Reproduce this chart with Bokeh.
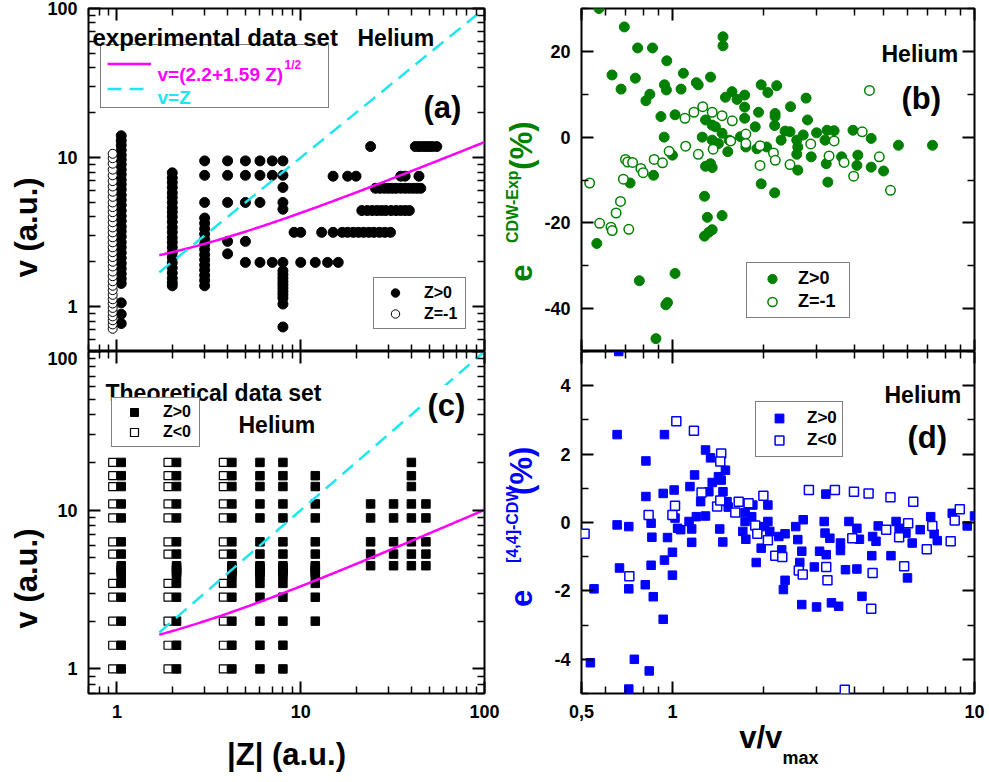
import numpy as np
from bokeh.plotting import figure
from bokeh.models import (FixedTicker, LogAxis, LinearAxis, Label, Legend, LegendItem,
                          CustomJSTickFormatter)
from bokeh.layouts import column, row
from bokeh.embed import file_html
from bokeh.resources import INLINE

# ------------------------------------------------------------------ data
# (a) experimental data set, Z>0 : v (a.u.) at fixed |Z| columns
a_z1_v = [14.0, 13.0, 12.1, 11.2, 10.4, 9.7, 9.0, 8.3, 7.7, 7.1, 6.6, 6.1, 5.6, 5.2, 4.8,
          4.4, 4.05, 3.75, 3.45, 3.2, 2.95, 2.7, 2.5, 2.3, 2.12, 1.95, 1.8, 1.66, 1.54,
          1.43, 1.06, 0.89, 0.77]
a_z2_v = [7.9, 7.3, 6.8, 6.3, 5.8, 5.4, 5.0, 4.6, 4.3, 4.0, 3.7, 3.4, 3.15, 2.9, 2.7, 2.5,
          2.3, 2.13, 1.97, 1.82, 1.68, 1.55, 1.45, 1.38]
a_z3_v = [9.5, 7.6, 5.0, 3.93, 3.62, 3.33, 3.07, 2.83, 2.62, 2.42, 2.23, 2.06, 1.9, 1.76,
          1.62, 1.5, 1.38]
a_z4_v = [9.5, 7.6, 5.0, 2.74, 2.26]
a_z5_v = [9.5, 7.6, 5.0, 2.74, 1.98]
a_z6_v = [9.5, 7.6, 5.0, 1.98]
a_z7_v = [9.5, 7.6, 1.98]
a_z8_v = [9.5, 7.6, 6.3, 5.0, 4.5, 1.98, 1.74, 1.64, 1.55, 1.47, 1.4, 1.33, 1.26, 1.2,
          1.14, 1.04, 0.73]
# (a) Z>0 : |Z| values along rows of fixed v
a_row_v = [3.15, 1.98, 7.5, 11.85, 6.22, 4.41]
a_row_Z = [
    [9.2, 10, 13, 15, 16.8, 18, 19.3, 20.6, 22, 23.5, 25, 26.8, 28.7, 30.8],
    [10, 12, 14, 16],
    [15, 18, 20, 35, 37, 44],
    [24, 42, 44, 46, 48, 50, 52, 55],
    [25.5, 27, 28.5, 30, 31.5, 33, 35, 37, 39, 41, 43, 45],
    [21.5, 23, 24.5, 26, 27.5, 29, 31, 33, 35, 37, 39],
]
# (a) Z=-1 (|Z|=1)
a_neg_v = [0.71, 0.76, 0.81, 0.86, 0.92, 0.98, 1.05, 1.12, 1.2, 1.29, 1.38, 1.48, 1.6, 1.72,
           1.86, 2.0, 2.15, 2.32, 2.5, 2.7, 2.92, 3.15, 3.4, 3.68, 3.98, 4.3, 4.65, 5.0,
           5.45, 5.9, 6.4, 6.95, 7.6, 8.3, 9.1, 9.9, 10.6]

# (c) theoretical data set
c_v_grid = [1.0, 1.41, 2.0, 2.83, 3.46, 5.29, 6.32, 8.94, 10.95, 14.1, 16.5, 20.0]
c_v_band = [3.9, 4.05, 4.2, 4.35, 4.47]
c_Z_both = [1, 2, 4]          # Z>0 and Z<0 both computed
c_Z_full = [6, 8]             # Z>0 only, full grid
c_v_z12 = [2.0, 2.83, 3.46, 3.9, 4.05, 4.2, 4.35, 4.47, 5.29, 6.32, 8.94, 10.95, 14.1, 16.5]
c_Z_high = [24, 32, 48]
c_v_high = [4.47, 5.29, 6.32, 8.94, 10.95]
c_v_z40 = [4.47, 5.29, 6.32, 8.94, 10.95, 14.1, 16.5, 20.0]

# (b) e^CDW-Exp (%) vs v/vmax
b_pos = [(0.571, 30.0), (0.693, 25.7), (0.767, 20.8), (0.859, 20.8), (0.631, 14.5),
         (0.676, 11.2), (0.754, 13.75), (0.817, 8.5), (0.842, 10.0), (0.958, 17.8),
         (0.941, 12.2), (0.955, 11.0), (0.916, 4.8), (0.939, 0.0), (1.087, 14.9),
         (1.068, 11.2), (1.02, 5.2), (1.0, -4.2), (1.2, 12.7), (1.217, 12.2), (1.337, 14.0),
         (1.47, 23.4), (1.47, 21.3), (1.498, 9.3), (1.575, 10.6), (1.636, 8.8), (1.734, 9.8),
         (1.734, 7.0), (1.734, 4.4), (1.287, 4.0), (1.255, 0.0), (1.354, 2.8), (1.354, -0.7),
         (1.42, -1.5), (1.46, 0.9), (1.287, -6.8), (1.337, -6.2), (1.354, -7.1), (1.277, -13.8),
         (1.305, -18.7), (1.354, -21.6), (1.32, -22.2), (1.277, -23.1), (1.46, -18.3),
         (0.866, -8.9), (0.724, -10.7), (0.562, -24.8), (0.777, -33.5), (1.02, -31.8),
         (0.963, -38.6), (0.951, -39.1), (0.882, -47.0), (1.928, 5.8), (1.967, 12.2),
         (2.07, 10.4), (2.214, 12.0), (2.187, 5.5), (2.187, 4.8), (2.18, 2.7), (1.88, 2.4),
         (1.904, -2.7), (2.05, -2.3), (1.967, -10.9), (2.18, -13.0), (2.29, -0.7), (2.36, 1.4),
         (2.45, 1.25), (2.46, 7.1), (2.77, 9.1), (2.8, 4.0), (2.58, -0.7), (2.6, -2.3),
         (2.58, -4.0), (2.6, -7.7), (2.88, -4.6), (2.71, 0.5), (3.0, 1.0), (3.23, -6.2),
         (3.27, -10.5), (3.25, 1.6), (3.43, 1.5), (3.2, -0.7), (3.63, -4.6), (3.96, 1.6),
         (4.11, -4.2), (4.08, -6.6), (4.55, -0.3), (4.55, -7.0), (5.0, -7.9), (5.6, -1.9),
         (7.26, -1.9), (1.388, 2.4), (1.54, -0.7), (1.68, 0.1), (1.525, -3.4), (1.75, -2.3)]
b_neg = [(0.532, -10.7), (0.574, -20.1), (0.626, -21.0), (0.632, -21.8), (0.651, -17.7),
         (0.673, -15.0), (0.688, -9.8), (0.699, -5.2), (0.711, -5.8), (0.738, -5.9),
         (0.786, -7.3), (0.8, -8.3), (0.717, -21.5), (0.87, -5.2), (0.927, -6.0),
         (0.975, -3.3), (1.1, 4.4), (1.106, -2.1), (1.178, 5.8), (1.218, -4.0), (1.26, 7.1),
         (1.354, 5.8), (1.46, 5.0), (1.578, 3.8), (1.364, -2.8), (1.56, -0.9), (1.75, 0.7),
         (1.75, -1.5), (1.95, -2.0), (1.95, -6.6), (2.16, -3.7), (2.19, -5.4), (2.45, -6.4),
         (2.87, -1.6), (3.3, -4.4), (3.43, -0.9), (3.7, -5.9), (3.98, -9.1), (4.25, 1.25),
         (4.49, 10.9), (4.84, -4.6), (5.27, -12.4)]

# (d) e^[4,4]-CDW (%) vs v/vmax
d_pos = [(0.664, 5.0), (0.656, 2.57), (0.55, -1.94), (0.535, -4.1), (0.656, -0.07),
         (0.668, -1.33), (0.717, -0.12), (0.717, -1.94), (0.717, -4.87), (0.748, -4.0),
         (0.817, 1.8), (0.817, 0.76), (0.813, -1.82), (0.838, -4.34), (0.85, -0.02),
         (0.855, -0.43), (0.85, -1.25), (0.864, -2.17), (0.932, -2.83), (0.941, 2.57),
         (0.932, 0.85), (0.941, -1.1), (0.963, -0.44), (1.0, -0.87), (1.0, -1.54),
         (1.013, 0.95), (1.02, 0.13), (1.04, -0.17), (1.065, -0.21), (1.143, 1.05),
         (1.158, -0.19), (1.135, 0.03), (1.158, -0.58), (1.184, 1.39), (1.2, 0.17),
         (1.24, 0.61), (1.287, 2.12), (1.287, 0.19), (1.32, 0.9), (1.337, 1.89), (1.354, 1.17),
         (1.42, 1.34), (1.45, 1.24), (1.498, 1.53), (1.47, 0.9), (1.516, 0.61), (1.434, -0.19),
         (1.468, -0.57), (1.53, 0.45), (1.71, -0.26), (1.74, 0.29), (1.74, 0.03), (1.75, -0.49),
         (1.83, 0.17), (1.846, 0.51), (1.894, -1.17), (1.967, -0.75), (2.02, -0.12),
         (2.07, 0.51), (2.07, 0.03), (2.1, -0.26), (2.25, -0.41), (2.3, -0.8), (2.33, -1.96),
         (2.36, -1.69), (2.36, -0.33), (2.56, -0.12), (2.6, -0.5), (2.64, -1.17), (2.68, -2.4),
         (2.68, -0.84), (2.71, 0.08), (2.95, -1.3), (3.0, -2.47), (3.07, -0.84), (3.18, 0.03),
         (3.2, -0.31), (3.22, 0.83), (3.23, -0.94), (3.32, -0.46), (3.36, -2.35), (3.55, -2.45),
         (3.6, -0.82), (3.6, -0.6), (3.74, -1.38), (3.84, 0.03), (4.08, -0.17), (4.08, -1.36),
         (4.16, -0.49), (4.24, -2.16), (4.57, -0.97), (4.6, -0.41), (4.72, -0.55), (4.8, -0.1),
         (5.29, -0.97), (5.5, 0.03), (5.63, -0.17), (5.93, -0.31), (6.0, -1.62), (6.22, -0.6),
         (6.61, -0.21), (7.16, 0.17), (7.35, -0.33), (7.53, -0.53), (8.44, 0.27), (9.46, -0.1),
         (10.0, 0.19)]
d_neg = [(0.512, -0.33), (0.72, -1.57), (0.834, 0.22), (1.0, 0.22), (1.02, 0.49), (1.03, 2.96),
         (1.178, 2.68), (1.249, 0.88), (1.406, 0.47), (1.45, 2.02), (1.44, 1.78), (1.44, 0.64),
         (1.615, 0.29), (1.657, 0.61), (1.787, 0.56), (1.88, -0.09), (1.91, -0.33), (2.0, 0.78),
         (2.07, -0.52), (2.19, -0.97), (2.31, -1.01), (2.62, -1.4), (2.7, -1.52), (2.83, 0.95),
         (3.23, -1.3), (3.26, -1.69), (3.45, 0.95), (3.72, -4.89), (3.94, -0.46), (3.99, 0.9),
         (4.46, 0.85), (4.6, -1.48), (4.55, -2.52), (5.1, -0.21), (5.27, 0.74), (5.63, -0.43),
         (5.85, -1.28), (6.03, -0.02), (6.27, 0.61), (6.95, -0.78), (7.25, -0.1), (8.34, -0.55),
         (8.6, 0.06), (8.94, 0.39)]

# ------------------------------------------------------------------ style
FONT = "Liberation Sans"
GREEN = "#008000"
BLUE = "#0000FF"
MAGENTA = "#FF00FF"
CYAN = "#1EE6EE"
DODGE = 1.055   # horizontal offset between Z>0 and Z<0 symbols of the same |Z|
NB = "\u00a0"   # non-breaking space used to place axis-title pieces

LOG_MINOR = [0.5, 0.6, 0.7, 0.8, 0.9, 2, 3, 4, 5, 6, 7, 8, 9, 20, 30, 40, 50, 60, 70, 80, 90]
PLAIN = "return tick.toString();"


def new_fig(w, h, xr, yr, xlog, ylog, bl, br, bt, bb):
    p = figure(width=w, height=h, x_range=xr, y_range=yr,
               x_axis_type="log" if xlog else "linear",
               y_axis_type="log" if ylog else "linear",
               output_backend="svg", toolbar_location=None, tools="",
               min_border_left=bl, min_border_right=br,
               min_border_top=bt, min_border_bottom=bb)
    p.add_layout((LogAxis if xlog else LinearAxis)(), "above")
    p.add_layout((LogAxis if ylog else LinearAxis)(), "right")
    p.xgrid.visible = False
    p.ygrid.visible = False
    p.outline_line_color = "black"
    p.outline_line_width = 2
    p.background_fill_color = "white"
    p.border_fill_color = "white"
    return p


def style_axis(ax, major, minor, labelled, code=PLAIN):
    ax.ticker = FixedTicker(ticks=major, minor_ticks=minor)
    ax.axis_line_color = None
    ax.major_tick_in = 12
    ax.major_tick_out = 0
    ax.minor_tick_in = 7
    ax.minor_tick_out = 0
    ax.major_tick_line_width = 2
    ax.minor_tick_line_width = 1.5
    ax.major_tick_line_color = "black"
    ax.minor_tick_line_color = "black"
    if labelled:
        ax.major_label_text_font = FONT
        ax.major_label_text_font_style = "bold"
        ax.major_label_text_font_size = "18px"
        ax.major_label_text_color = "black"
        ax.major_label_standoff = 11
        ax.formatter = CustomJSTickFormatter(code=code)
    else:
        ax.formatter = CustomJSTickFormatter(code="return '';")
        ax.major_label_text_font_size = "1px"
        ax.major_label_standoff = 0


def axis_title(ax, s, size, color, standoff):
    ax.axis_label = s
    ax.axis_label_text_font = FONT
    ax.axis_label_text_font_style = "bold"
    ax.axis_label_text_font_size = f"{size}px"
    ax.axis_label_text_color = color
    ax.axis_label_standoff = standoff


def title_axis(p, side, s, size, color, standoff):
    """an extra tick-less axis that only carries a (sub/superscript) title piece"""
    ax = LinearAxis(ticker=FixedTicker(ticks=[]),
                    formatter=CustomJSTickFormatter(code="return '';"),
                    major_label_text_font_size="1px", major_label_standoff=0,
                    major_tick_line_color=None, minor_tick_line_color=None,
                    axis_line_color=None, major_tick_in=0, major_tick_out=0,
                    minor_tick_in=0, minor_tick_out=0)
    axis_title(ax, s, size, color, standoff)
    p.add_layout(ax, side)


def text(p, frame, cx, cy, s, size, color="black", align="left", baseline="alphabetic",
         bg=None):
    fl, fb = frame
    lab = Label(x=cx - fl, y=fb - cy, x_units="screen", y_units="screen", text=s,
                text_font=FONT, text_font_style="bold", text_font_size=f"{size}px",
                text_color=color, text_align=align, text_baseline=baseline)
    if bg is not None:
        lab.background_fill_color = bg
        lab.padding = 3
    p.add_layout(lab)


def legend(p, items, loc, pad, gw, gh, standoff, lw, size, bg_alpha=1.0):
    lg = Legend(items=items, location=loc, padding=pad, spacing=0, margin=0,
                glyph_width=gw, glyph_height=gh, label_height=gh, label_width=lw,
                label_standoff=standoff, label_text_font=FONT, label_text_font_style="bold",
                label_text_font_size=f"{size}px", label_text_color="black",
                border_line_color="black", border_line_width=1.3,
                background_fill_color="white", background_fill_alpha=bg_alpha)
    p.add_layout(lg)


FR_A = (88, 351)
FR_B = (577, 351)
FR_C = (88, 693)
FR_D = (577, 693)

zc = np.geomspace(1.7, 100, 200)

# ------------------------------------------------------------------ (a)
pa = new_fig(500, 351, (0.7, 100), (0.5, 100), True, True, 88, 16, 8, 0)
style_axis(pa.left[0], [1, 10, 100], LOG_MINOR, True)
style_axis(pa.right[0], [1, 10, 100], LOG_MINOR, False)
style_axis(pa.above[0], [1, 10, 100], LOG_MINOR, False)
style_axis(pa.below[0], [1, 10, 100], LOG_MINOR, False)
axis_title(pa.left[0], "v (a.u.)" + NB * 11, 31, "black", 0)

a_pos_Z, a_pos_v = [], []
for Z, vs in [(1 * DODGE, a_z1_v), (2, a_z2_v), (3, a_z3_v), (4, a_z4_v), (5, a_z5_v),
              (6, a_z6_v), (7, a_z7_v), (8, a_z8_v)]:
    a_pos_Z += [Z] * len(vs)
    a_pos_v += vs
for v, Zs in zip(a_row_v, a_row_Z):
    a_pos_Z += Zs
    a_pos_v += [v] * len(Zs)

ra_pos = pa.scatter(a_pos_Z, a_pos_v, marker="circle", size=10, fill_color="black",
                    line_color="black")
ra_neg = pa.scatter([1 / DODGE] * len(a_neg_v), a_neg_v, marker="circle", size=9,
                    fill_color="white", line_color="black", line_width=1)
ra_m = pa.line(zc, np.sqrt(2.2 + 1.59 * zc), line_color=MAGENTA, line_width=2.5)
ra_c = pa.line(zc, zc, line_color=CYAN, line_width=2.5, line_dash="14 8")

legend(pa, [LegendItem(label=" ", renderers=[ra_m]), LegendItem(label=" ", renderers=[ra_c])],
       (12, 243), 6, 44, 25, 7, 164, 18, bg_alpha=0.0)
legend(pa, [LegendItem(label="Z>0", renderers=[ra_pos]),
            LegendItem(label="Z=-1", renderers=[ra_neg])],
       (285, 22), 4, 34, 21, 12, 37, 16)

text(pa, FR_A, 92, 37, "experimental data set", 24)
text(pa, FR_A, 357, 37, "Helium", 23)
text(pa, FR_A, 423, 107, "(a)", 31)
text(pa, FR_A, 157, 74, "v=(2.2+1.59 Z)", 19, MAGENTA)
text(pa, FR_A, 284, 64, "1/2", 12, MAGENTA)
text(pa, FR_A, 157, 97, "v=Z", 19, CYAN)

# ------------------------------------------------------------------ (b)
pb = new_fig(489, 351, (0.5, 10), (-50, 30), True, False, 77, 15, 8, 0)
style_axis(pb.left[0], [-40, -20, 0, 20], [-50, -30, -10, 10, 30], True)
style_axis(pb.right[0], [-40, -20, 0, 20], [-50, -30, -10, 10, 30], False)
style_axis(pb.above[0], [0.5, 1, 10], LOG_MINOR, False)
style_axis(pb.below[0], [0.5, 1, 10], LOG_MINOR, False)
axis_title(pb.left[0], "e" + NB * 11 + "(%)" + NB * 5, 31, GREEN, 2)
title_axis(pb, "left", "CDW-Exp" + NB * 12, 16, GREEN, -19)

rb_pos = pb.scatter([q[0] for q in b_pos], [q[1] for q in b_pos], marker="circle", size=10,
                    fill_color=GREEN, line_color=GREEN)
rb_neg = pb.scatter([q[0] for q in b_neg], [q[1] for q in b_neg], marker="circle", size=9.5,
                    fill_color="white", line_color=GREEN, line_width=1.5)
legend(pb, [LegendItem(label="Z>0", renderers=[rb_pos]),
            LegendItem(label="Z=-1", renderers=[rb_neg])],
       (165, 33), 4, 42, 23, 5, 47, 18)

text(pb, FR_B, 877, 53, "Helium", 23)
text(pb, FR_B, 897, 98, "(b)", 31)

# ------------------------------------------------------------------ (c)
pc = new_fig(500, 431, (0.7, 100), (0.7, 100), True, True, 88, 16, 0, 89)
style_axis(pc.left[0], [1, 10, 100], LOG_MINOR, True)
style_axis(pc.right[0], [1, 10, 100], LOG_MINOR, False)
style_axis(pc.above[0], [1, 10, 100], LOG_MINOR, False)
style_axis(pc.below[0], [1, 10, 100], LOG_MINOR, True)
axis_title(pc.left[0], "v (a.u.)" + NB * 13, 31, "black", 0)
axis_title(pc.below[0], "|Z| (a.u.)", 31, "black", 16)

c_pos_Z, c_pos_v, c_neg_Z, c_neg_v = [], [], [], []
for Z in c_Z_both:
    vs = sorted(c_v_grid + c_v_band)
    c_pos_Z += [Z * DODGE] * len(vs)
    c_pos_v += vs
    c_neg_Z += [Z / DODGE] * len(c_v_grid)
    c_neg_v += c_v_grid
for Z in c_Z_full:
    vs = sorted(c_v_grid + c_v_band)
    c_pos_Z += [Z] * len(vs)
    c_pos_v += vs
c_pos_Z += [12] * len(c_v_z12)
c_pos_v += c_v_z12
for Z in c_Z_high:
    c_pos_Z += [Z] * len(c_v_high)
    c_pos_v += c_v_high
c_pos_Z += [40] * len(c_v_z40)
c_pos_v += c_v_z40

rc_pos = pc.scatter(c_pos_Z, c_pos_v, marker="square", size=8.5, fill_color="black",
                    line_color="black")
rc_neg = pc.scatter(c_neg_Z, c_neg_v, marker="square", size=8, fill_color="white",
                    line_color="black", line_width=1.2)
pc.line(zc, np.sqrt(1.0 + zc), line_color=MAGENTA, line_width=2.5)
pc.line(zc, zc, line_color=CYAN, line_width=2.5, line_dash="14 8")
legend(pc, [LegendItem(label="Z>0", renderers=[rc_pos]),
            LegendItem(label="Z<0", renderers=[rc_neg])],
       (23, 246), 4, 36, 20, 11, 32, 16)

text(pc, FR_C, 105, 392, "Theoretical data set", 23)
text(pc, FR_C, 238, 424, "Helium", 23)
text(pc, FR_C, 424, 405, "(c)", 31, bg="white")

# ------------------------------------------------------------------ (d)
pd = new_fig(489, 431, (0.5, 10), (-5, 5), True, False, 77, 15, 0, 89)
style_axis(pd.left[0], [-4, -2, 0, 2, 4], [-5, -3, -1, 1, 3, 5], True)
style_axis(pd.right[0], [-4, -2, 0, 2, 4], [-5, -3, -1, 1, 3, 5], False)
style_axis(pd.above[0], [0.5, 1, 10], LOG_MINOR, False)
style_axis(pd.below[0], [0.5, 1, 10], LOG_MINOR, True,
           "return tick == 0.5 ? '0,5' : tick.toString();")
axis_title(pd.left[0], "e" + NB * 11 + "(%)" + NB * 1, 31, BLUE, 12)
title_axis(pd, "left", "[4,4]-CDW" + NB * 1, 16, BLUE, -19)
axis_title(pd.below[0], "v/v" + NB * 4, 31, "black", -1)
title_axis(pd, "below", NB * 9 + "max", 18, "black", -10)

rd_pos = pd.scatter([q[0] for q in d_pos], [q[1] for q in d_pos], marker="square", size=8.5,
                    fill_color=BLUE, line_color=BLUE)
rd_neg = pd.scatter([q[0] for q in d_neg], [q[1] for q in d_neg], marker="square", size=9,
                    fill_color="white", line_color=BLUE, line_width=1.5)
legend(pd, [LegendItem(label="Z>0", renderers=[rd_pos]),
            LegendItem(label="Z<0", renderers=[rd_neg])],
       (174, 236), 5, 36, 22, 10, 30, 17)

text(pd, FR_D, 880, 394, "Helium", 23)
text(pd, FR_D, 903, 437, "(d)", 31)

layout = column(row(pa, pb), row(pc, pd))
open("out.html", "w").write(file_html(layout, INLINE))
